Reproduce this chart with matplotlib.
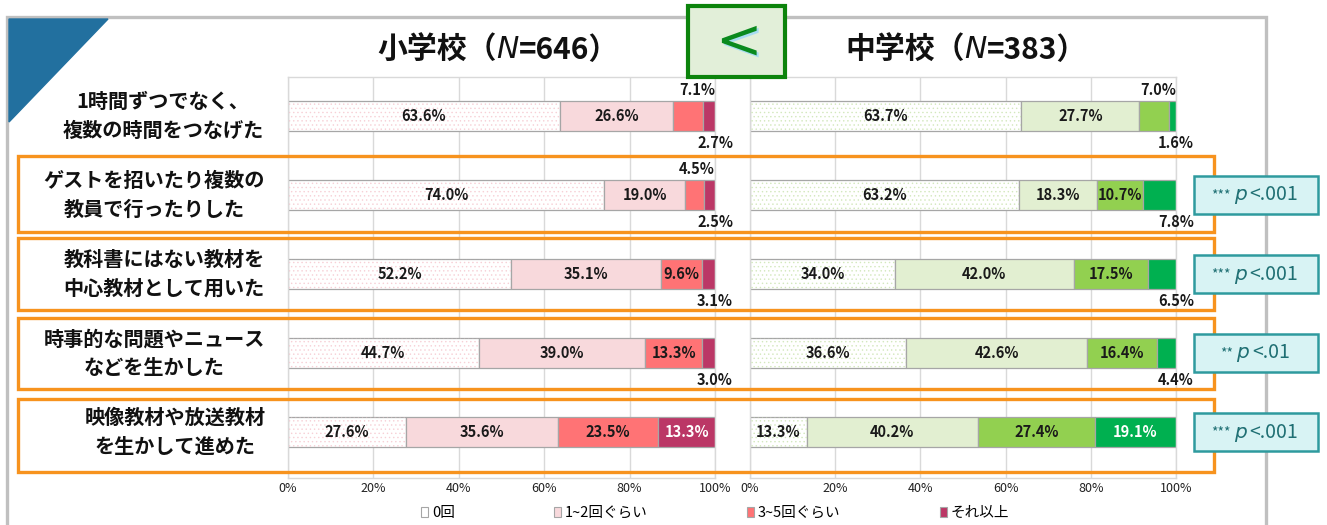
import numpy as np
import matplotlib.pyplot as plt
from matplotlib.patches import Rectangle, Polygon, Patch

plt.rcParams['font.family'] = ['Noto Sans CJK JP', 'DejaVu Sans']
plt.rcParams['hatch.linewidth'] = 0.5

W, H = 1327, 525

categories = [
    "1時間ずつでなく、\n複数の時間をつなげた",
    "ゲストを招いたり複数の\n教員で行ったりした",
    "教科書にはない教材を\n中心教材として用いた",
    "時事的な問題やニュース\nなどを生かした",
    "映像教材や放送教材\nを生かして進めた",
]
series = ["0回", "1~2回ぐらい", "3~5回ぐらい", "それ以上"]

elem = np.array([
    [63.6, 26.6, 7.1, 2.7],
    [74.0, 19.0, 4.5, 2.5],
    [52.2, 35.1, 9.6, 3.1],
    [44.7, 39.0, 13.3, 3.0],
    [27.6, 35.6, 23.5, 13.3],
])
mid = np.array([
    [63.7, 27.7, 7.0, 1.6],
    [63.2, 18.3, 10.7, 7.8],
    [34.0, 42.0, 17.5, 6.5],
    [36.6, 42.6, 16.4, 4.4],
    [13.3, 40.2, 27.4, 19.1],
])
n_elem, n_mid = 646, 383
sig = ["", "***", "***", "**", "***"]
pval = ["", ".001", ".001", ".01", ".001"]

elem_colors = ['#ffffff', '#f8d9dc', '#ff7375', '#bb3766']
mid_colors = ['#ffffff', '#e2efd1', '#92d050', '#00b050']
elem_dots = '#f7d0d6'
mid_dots = '#d3e8bd'


def fx(px):
    return px / W


def fy(py):
    return 1 - py / H


fig = plt.figure(figsize=(W / 100, H / 100), dpi=100)
fig.patch.set_facecolor('white')

# outer frame + corner triangle
fig.patches.append(Rectangle((fx(7), fy(540)), (1266 - 7) / W, (540 - 17) / H,
                             fill=False, ec='#c0c0c0', lw=2.4,
                             transform=fig.transFigure, zorder=0))
fig.patches.append(Polygon([(fx(9), fy(19)), (fx(108), fy(19)), (fx(9), fy(122))],
                           closed=True, color='#22709f',
                           transform=fig.transFigure, zorder=1))

rows = np.arange(len(categories))
ylim = (4 + (478 - 432) / 79, -(116 - 77) / 79)


def draw_panel(ax, data, colors, dotcol):
    left = np.zeros(len(data))
    for j in range(data.shape[1]):
        vals = data[:, j]
        ax.barh(rows, vals, left=left, height=0.38, color=colors[j],
                edgecolor='#a6a6a6', lw=0.9, zorder=2)
        if j == 0:
            ax.barh(rows, vals, left=left, height=0.38, color='none',
                    edgecolor=dotcol, hatch='....', lw=0, zorder=2.5)
        for i, v in enumerate(vals):
            lab = f"{v:.1f}%"
            if j == 2 and v < 8:
                ax.text(100, i - 0.335, lab, ha='right', va='center',
                        fontsize=10.5, fontweight='bold', color='#1a1a1a', zorder=4)
            elif j == 3 and v < 10:
                ax.text(100, i + 0.345, lab, ha='center', va='center',
                        fontsize=10.5, fontweight='bold', color='#1a1a1a', zorder=4)
            else:
                c = 'white' if j == 3 else '#1a1a1a'
                ax.text(left[i] + v / 2, i, lab, ha='center', va='center',
                        fontsize=10.5, fontweight='bold', color=c, zorder=4)
        left = left + vals
    ax.set_xlim(0, 100)
    ax.set_ylim(*ylim)
    ax.set_xticks(np.arange(0, 101, 20))
    ax.set_xticklabels([f"{t}%" for t in range(0, 101, 20)])
    ax.set_yticks([])
    ax.tick_params(axis='x', length=0, pad=3, labelsize=9, labelcolor='#222222')
    ax.grid(axis='x', color='#d9d9d9', lw=1)
    ax.set_axisbelow(True)
    for s in ax.spines.values():
        s.set_color('#d9d9d9')
        s.set_linewidth(1)
    ax.set_facecolor('none')


ax_e = fig.add_axes([fx(288), fy(478), (715 - 288) / W, (478 - 77) / H])
ax_m = fig.add_axes([fx(750), fy(478), (1176 - 750) / W, (478 - 77) / H])
draw_panel(ax_e, elem, elem_colors, elem_dots)
draw_panel(ax_m, mid, mid_colors, mid_dots)

# category labels
label_x = [163, 154, 164, 154, 175]
for i, cat in enumerate(categories):
    fig.text(fx(label_x[i]), fy(116 + 79 * i), cat, ha='center', va='center',
             multialignment='center', fontsize=14.5, fontweight='bold',
             linespacing=1.45, color='#111111')

# orange boxes around significant rows
box_tb = [None, (156, 232), (238, 310), (318, 389), (399, 472)]
for tb in box_tb:
    if tb is None:
        continue
    t, b = tb
    fig.patches.append(Rectangle((fx(18), fy(b)), (1214 - 18) / W, (b - t) / H,
                                 fill=False, ec='#f7931e', lw=2.4,
                                 transform=fig.transFigure, zorder=5))

renderer = fig.canvas.get_renderer()


def put_pieces(xc, y, parts, gap=0):
    texts, widths = [], []
    for s, kw in parts:
        t = fig.text(0, fy(y), s, ha='left', va='center', zorder=7, **kw)
        texts.append(t)
        widths.append(t.get_window_extent(renderer).width)
    total = sum(widths) + gap * (len(parts) - 1)
    cur = xc - total / 2
    for t, w in zip(texts, widths):
        t.set_x(fx(cur))
        cur += w + gap


# titles
for xc, name, n in [(498, "小学校（", n_elem), (966, "中学校（", n_mid)]:
    put_pieces(xc, 50, [
        (name, dict(fontsize=21.5, fontweight='bold', color='#111111')),
        ("N", dict(fontsize=21.5, fontstyle='italic', family='DejaVu Sans',
                   color='#111111')),
        (f"={n}）", dict(fontsize=21.5, fontweight='bold', color='#111111')),
    ])

# "<" box between the panels
fig.patches.append(Rectangle((fx(688), fy(77)), (785 - 688) / W, (77 - 6) / H,
                             fc='#e2efd9', ec='#0c840c', lw=3,
                             transform=fig.transFigure, zorder=6))
fig.text(fx(740), fy(45), "<", ha='center', va='center', fontsize=40,
         family='DejaVu Sans', color='#a8dcf2', zorder=7)
fig.text(fx(738), fy(43), "<", ha='center', va='center', fontsize=40,
         family='DejaVu Sans', color='#0a8a1e', zorder=7.5)

# p-value boxes
for i in rows:
    if not sig[i]:
        continue
    yc = 116 + 79 * i
    fig.patches.append(Rectangle((fx(1194), fy(yc + 19)), 124 / W, 38 / H,
                                 fc='#d8f3f4', ec='#2e9a9e', lw=1.8,
                                 transform=fig.transFigure, zorder=6))
    put_pieces(1255, yc, [
        (sig[i], dict(fontsize=10, color='#1f6f73')),
        ("p", dict(fontsize=14.5, fontstyle='italic', family='DejaVu Sans',
                   color='#1f6f73')),
        ("<" + pval[i], dict(fontsize=14, color='#1f6f73')),
    ], gap=3)

# legend
handles = [Patch(facecolor=c, edgecolor='#a6a6a6', lw=0.8) for c in elem_colors]
fig.legend(handles, series, loc='center', bbox_to_anchor=(fx(715), fy(513)),
           ncol=4, frameon=False, fontsize=10.5, handlelength=0.5,
           handleheight=0.7, handletextpad=0.25, columnspacing=6.8)

fig.savefig('out.png', dpi=100)
